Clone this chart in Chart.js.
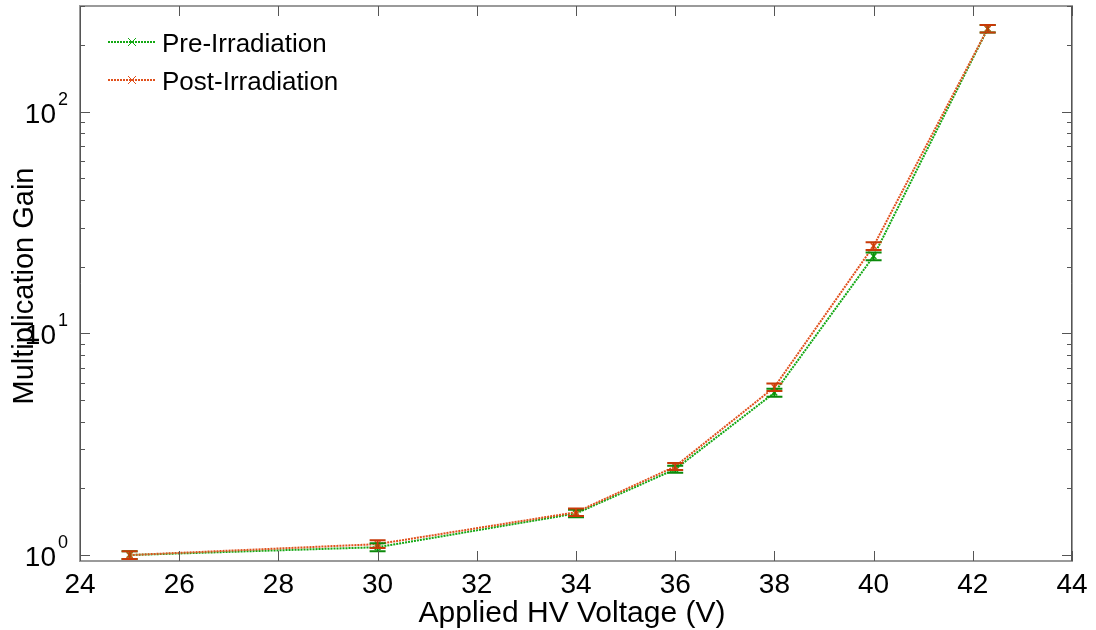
<!DOCTYPE html>
<html>
<head>
<meta charset="utf-8">
<script src="https://cdn.jsdelivr.net/npm/chart.js"></script>
<style>
  html, body { margin: 0; padding: 0; background: #ffffff; }
  #wrap { position: relative; width: 1096px; height: 630px; }
</style>
</head>
<body>
<div id="wrap"><canvas id="gainChart"></canvas></div>
<script>
// Data
const voltages = [25, 30, 34, 36, 38, 40, 42.3];
const preGain = [1.0, 1.085, 1.54, 2.44, 5.4, 22.3, 237];
const postGain = [1.0, 1.12, 1.56, 2.51, 5.72, 24.8, 237];
const preErr = [0.04, 0.045, 0.06, 0.09, 0.22, 0.9, 9];
const postErr = [0.04, 0.045, 0.06, 0.09, 0.22, 1.0, 9];
const xTicks = [24, 26, 28, 30, 32, 34, 36, 38, 40, 42, 44];
const yDecades = [1, 10, 100];
const yExponents = ['0', '1', '2'];

const colors = {
    pre: '#13a813',
    preBar: '#0b8a0b',
    post: '#e0501c',
    postBar: '#c83a08',
    frame: '#9a9a9a',
    tick: '#555555',
    text: '#000000'
};
const FONT = '"Liberation Sans", Arial, sans-serif';

function toPoints(ys) {
    return voltages.map((v, i) => ({ x: v, y: ys[i] }));
}

// error bars, frame, ticks, labels and legend
const decorPlugin = {
    id: 'decor',
    afterDatasetsDraw(chart) {
        const ctx = chart.ctx;
        const xs = chart.scales.x;
        const ys = chart.scales.y;

        // error bars
        const bars = [[preGain, preErr, colors.preBar], [postGain, postErr, colors.postBar]];
        ctx.save();
        bars.forEach(([vals, errs, col]) => {
            ctx.strokeStyle = col;
            ctx.lineWidth = 2;
            voltages.forEach((v, i) => {
                const px = xs.getPixelForValue(v);
                const top = ys.getPixelForValue(vals[i] + errs[i]);
                const bot = ys.getPixelForValue(vals[i] - errs[i]);
                ctx.beginPath();
                ctx.moveTo(px, top); ctx.lineTo(px, bot);
                ctx.moveTo(px - 8, top); ctx.lineTo(px + 8, top);
                ctx.moveTo(px - 8, bot); ctx.lineTo(px + 8, bot);
                ctx.stroke();
            });
        });
        ctx.restore();
    },
    afterDraw(chart) {
        const ctx = chart.ctx;
        const xs = chart.scales.x;
        const ys = chart.scales.y;
        const a = chart.chartArea;
        ctx.save();

        // frame
        ctx.strokeStyle = colors.frame;
        ctx.lineWidth = 2;
        ctx.strokeRect(a.left, a.top, a.right - a.left, a.bottom - a.top);
        ctx.strokeStyle = colors.tick;
        ctx.lineWidth = 1;
        ctx.beginPath();
        ctx.moveTo(a.left + 0.5, a.top); ctx.lineTo(a.left + 0.5, a.bottom);
        ctx.moveTo(a.right - 0.5, a.top); ctx.lineTo(a.right - 0.5, a.bottom);
        ctx.stroke();

        // x ticks (inward, top and bottom)
        ctx.beginPath();
        xTicks.forEach(t => {
            const px = Math.round(xs.getPixelForValue(t)) + 0.5;
            ctx.moveTo(px, a.bottom); ctx.lineTo(px, a.bottom - 10);
            ctx.moveTo(px, a.top); ctx.lineTo(px, a.top + 10);
        });
        // y ticks (major + minor, left and right)
        yDecades.forEach(d => {
            for (let m = 1; m <= 9; m++) {
                const v = d * m;
                if (v < ys.min || v > ys.max) continue;
                const py = Math.round(ys.getPixelForValue(v)) + 0.5;
                const len = m === 1 ? 10 : 5;
                ctx.moveTo(a.left, py); ctx.lineTo(a.left + len, py);
                ctx.moveTo(a.right, py); ctx.lineTo(a.right - len, py);
            }
        });
        ctx.stroke();

        // x tick labels
        ctx.fillStyle = colors.text;
        ctx.font = '28px ' + FONT;
        ctx.textAlign = 'center';
        ctx.textBaseline = 'alphabetic';
        xTicks.forEach(t => {
            ctx.fillText(String(t), xs.getPixelForValue(t), 593);
        });

        // axis titles
        ctx.font = '30px ' + FONT;
        ctx.fillText('Applied HV Voltage (V)', 572, 622);
        ctx.save();
        ctx.font = '29px ' + FONT;
        ctx.translate(33, 286);
        ctx.rotate(-Math.PI / 2);
        ctx.fillText('Multiplication Gain', 0, 0);
        ctx.restore();

        // y tick labels 10^n
        yDecades.forEach((d, i) => {
            const py = ys.getPixelForValue(d);
            ctx.font = '28px ' + FONT;
            ctx.textAlign = 'right';
            ctx.fillText('10', 56, py + 11);
            ctx.font = '18px ' + FONT;
            ctx.textAlign = 'left';
            ctx.fillText(yExponents[i], 58, py - 7);
        });

        // legend
        const items = [['Pre-Irradiation', colors.pre], ['Post-Irradiation', colors.post]];
        items.forEach(([label, col], i) => {
            const ly = 42 + i * 38;
            ctx.strokeStyle = col;
            ctx.lineWidth = 2;
            ctx.setLineDash([2, 1]);
            ctx.beginPath();
            ctx.moveTo(108, ly); ctx.lineTo(156, ly);
            ctx.stroke();
            ctx.setLineDash([]);
            ctx.lineWidth = 1;
            ctx.beginPath();
            ctx.moveTo(128, ly - 4); ctx.lineTo(136, ly + 4);
            ctx.moveTo(136, ly - 4); ctx.lineTo(128, ly + 4);
            ctx.stroke();
            ctx.fillStyle = colors.text;
            ctx.font = '26px ' + FONT;
            ctx.textAlign = 'left';
            ctx.textBaseline = 'alphabetic';
            ctx.fillText(label, 162, ly + 10);
        });
        ctx.restore();
    }
};

const chart = new Chart(document.getElementById('gainChart'), {
    type: 'scatter',
    data: {
        datasets: [
            {
                label: 'Pre-Irradiation',
                data: toPoints(preGain),
                showLine: true,
                borderColor: colors.pre,
                backgroundColor: colors.pre,
                borderWidth: 2,
                borderDash: [2, 1],
                pointStyle: 'crossRot',
                pointRadius: 4,
                pointBorderWidth: 1.5,
                order: 2
            },
            {
                label: 'Post-Irradiation',
                data: toPoints(postGain),
                showLine: true,
                borderColor: colors.post,
                backgroundColor: colors.post,
                borderWidth: 2,
                borderDash: [2, 1],
                pointStyle: 'crossRot',
                pointRadius: 4,
                pointBorderWidth: 1.5,
                order: 1
            }
        ]
    },
    options: {
        responsive: true,
        maintainAspectRatio: false,
        animation: false,
        layout: { padding: { left: 80, right: 24, top: 6, bottom: 69 } },
        plugins: {
            legend: { display: false },
            tooltip: { enabled: false }
        },
        scales: {
            x: { type: 'linear', min: 24, max: 44, display: false },
            y: { type: 'logarithmic', min: 0.94, max: 300, display: false }
        }
    },
    plugins: [decorPlugin]
});
</script>
</body>
</html>
